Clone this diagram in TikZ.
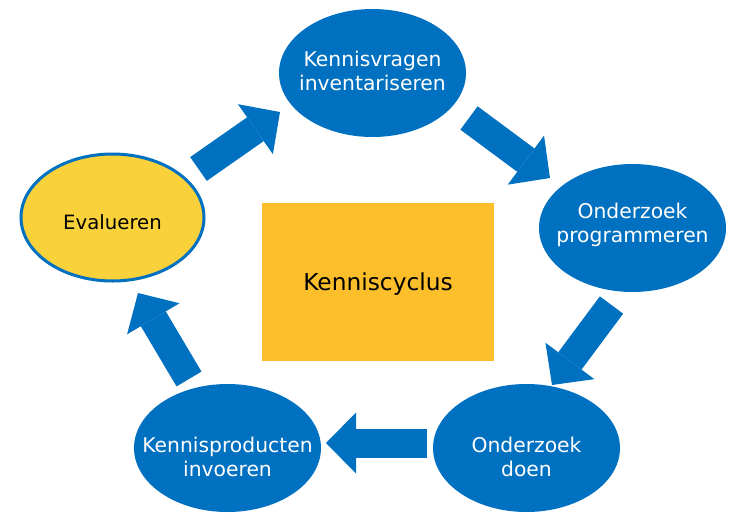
\documentclass[tikz,border=0pt]{standalone}
\usepackage{fontspec}
\setmainfont{DejaVu Sans}
\usetikzlibrary{shapes.geometric,arrows.meta}
\definecolor{oblue}{HTML}{0070C0}
\definecolor{evyel}{HTML}{F9D13B}
\definecolor{rectyel}{HTML}{FCBE2A}
\tikzset{
  blob/.style={ellipse, fill=oblue, minimum width=187pt, minimum height=128pt, inner sep=0pt},
  evblob/.style={ellipse, fill=evyel, draw=oblue, line width=3pt, minimum width=183pt, minimum height=127pt, inner sep=0pt},
  wtxt/.style={text=white, align=center, font=\fontsize{20.3}{24}\selectfont, inner sep=0pt},
  btxt/.style={text=black, align=center, font=\fontsize{19.7}{24}\selectfont, inner sep=0pt},
  centerbox/.style={rectangle, fill=rectyel, minimum width=232pt, minimum height=158pt, font=\fontsize{23.3}{28}\selectfont, text depth=0pt},
  blockarr/.style={draw=oblue, line width=29pt, -{Triangle[width=61pt,length=30pt,line width=0pt]}}
}
\begin{document}
\begin{tikzpicture}[x=1pt,y=-1pt]
\useasboundingbox (0,0) rectangle (729,512);
\clip (0,0) rectangle (729,512);
% nodes
\node[blob] (kv) at (372.5,73) {};
\node[blob] (op) at (632.5,228) {};
\node[blob] (od) at (526.5,448) {};
\node[blob] (kp) at (227.5,448) {};
\node[evblob] (ev) at (112.5,217.5) {};
\node[centerbox] (kc) at (378,282) {Kenniscyclus};
% texts
\node[wtxt] (kvt) at (372.5,71) {Kennisvragen\\inventariseren};
\node[wtxt] (opt) at (632.5,225) {Onderzoek\\programmeren};
\node[wtxt] (odt) at (526.5,457) {Onderzoek\\doen};
\node[wtxt] (kpt) at (227.5,457) {Kennisproducten\\invoeren};
\node[btxt] (evt) at (112.5,222.5) {Evalueren};
% arrow ends
\coordinate (a1s) at (198.5,169); \coordinate (a1e) at (280,112);
\coordinate (a2s) at (469,118);   \coordinate (a2e) at (550,178);
\coordinate (a3s) at (611.5,305); \coordinate (a3e) at (552,385);
\coordinate (a4s) at (427,443);   \coordinate (a4e) at (326,443);
\coordinate (a5s) at (189,379);   \coordinate (a5e) at (138,293);
\draw[blockarr] (a1s) -- (a1e);
\draw[blockarr] (a2s) -- (a2e);
\draw[blockarr] (a3s) -- (a3e);
\draw[blockarr] (a4s) -- (a4e);
\draw[blockarr] (a5s) -- (a5e);
\end{tikzpicture}
\end{document}
